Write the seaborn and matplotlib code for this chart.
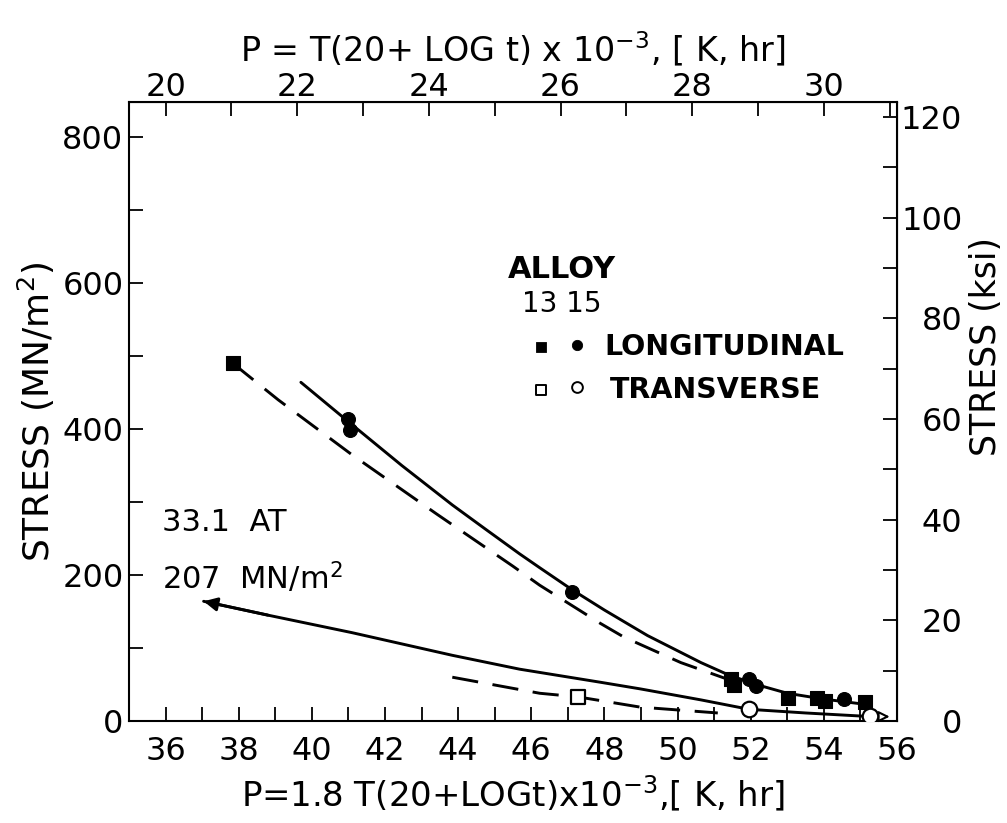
import numpy as np
import pandas as pd
import matplotlib
matplotlib.use("Agg")
import matplotlib.pyplot as plt
import seaborn as sns

# ---------------- data ----------------
# Longitudinal, filled squares
long_sq_P = [37.84, 51.46, 51.55, 53.03, 53.80, 54.02, 55.12]
long_sq_S = [490, 58, 50, 31, 31, 27, 26]
# Longitudinal, filled circles
long_ci_P = [41.00, 41.05, 47.11, 51.96, 52.15, 54.54]
long_ci_S = [414, 399, 177, 57, 48, 30]
# Transverse, open squares
tr_sq_P = [47.28]
tr_sq_S = [33]
# Transverse, open circles
tr_ci_P = [51.96, 55.25]
tr_ci_S = [16, 7]

# Fitted curves
solid_P = [39.70, 41.00, 42.46, 43.84, 44.77, 45.68, 46.23, 47.11, 48.00, 49.18, 50.64, 51.40, 52.15, 53.00, 54.00, 55.10]
solid_S = [464, 410, 350, 296, 262, 229, 210, 180, 152, 117, 80, 63, 50, 38, 30, 23]
dash_P = [37.84, 39.08, 41.09, 43.40, 45.50, 46.23, 47.88, 48.53, 50.09, 51.38]
dash_S = [490, 440, 365, 284, 212, 186, 134, 115, 80, 57]
low_solid_P = [37.04, 38.80, 41.10, 43.84, 45.68, 47.90, 48.98, 50.63, 51.96, 53.50, 55.30]
low_solid_S = [164, 145, 121, 90, 71, 53, 44, 29, 16, 11, 6]
low_dash_P = [43.84, 46.23, 47.28, 48.98, 51.10]
low_dash_S = [60, 38, 33, 19, 11]

x_ticks = [36, 38, 40, 42, 44, 46, 48, 50, 52, 54, 56]
top_ticks = [20, 22, 24, 26, 28, 30]
left_ticks = [0, 200, 400, 600, 800]
right_ticks = [0, 20, 40, 60, 80, 100, 120]

# ---------------- figure ----------------
sns.set_style("ticks")
plt.rcParams["font.family"] = ["DejaVu Sans"]
plt.rcParams["mathtext.default"] = "regular"
for k in ["text.color", "axes.labelcolor", "xtick.color", "ytick.color", "axes.edgecolor"]:
    plt.rcParams[k] = "black"

fig = plt.figure(figsize=(10.07, 8.23), dpi=100)
ax = fig.add_axes([129 / 1007, 1 - 721 / 823, (897 - 129) / 1007, (721 - 102) / 823])
ax.set_xlim(35, 56)
ax.set_ylim(0, 848)

LW = 2.1
dash = (0, (9, 5))

sns.lineplot(x=solid_P, y=solid_S, ax=ax, color="black", lw=LW, estimator=None, sort=False)
sns.lineplot(x=dash_P, y=dash_S, ax=ax, color="black", lw=LW, estimator=None, sort=False, linestyle=dash)
sns.lineplot(x=low_solid_P, y=low_solid_S, ax=ax, color="black", lw=LW, estimator=None, sort=False)
sns.lineplot(x=low_dash_P, y=low_dash_S, ax=ax, color="black", lw=LW, estimator=None, sort=False, linestyle=dash)

# arrowheads
ax.annotate("", xy=(low_solid_P[0], low_solid_S[0]), xytext=(low_solid_P[1], low_solid_S[1]),
            arrowprops=dict(arrowstyle="-|>", color="black", lw=LW, mutation_scale=20, shrinkA=0, shrinkB=0))
ax.annotate("", xy=(55.80, 6), xytext=(55.25, 6),
            arrowprops=dict(arrowstyle="-|>", fc="white", ec="black", lw=1.5, mutation_scale=16, shrinkA=0, shrinkB=0))

sns.scatterplot(x=long_sq_P, y=long_sq_S, ax=ax, marker="s", s=95, color="black", edgecolor="black", zorder=5)
sns.scatterplot(x=long_ci_P, y=long_ci_S, ax=ax, marker="o", s=100, color="black", edgecolor="black", zorder=5)
sns.scatterplot(x=tr_sq_P, y=tr_sq_S, ax=ax, marker="s", s=100, color="white", edgecolor="black", linewidth=1.6, zorder=5)
sns.scatterplot(x=tr_ci_P, y=tr_ci_S, ax=ax, marker="o", s=125, color="white", edgecolor="black", linewidth=1.6, zorder=5)

# legend drawn as in the reference (symbols + text)
sns.scatterplot(x=[46.26], y=[512], ax=ax, marker="s", s=55, color="black", edgecolor="black")
sns.scatterplot(x=[47.25], y=[515], ax=ax, marker="o", s=55, color="black", edgecolor="black")
sns.scatterplot(x=[46.26], y=[453], ax=ax, marker="s", s=60, color="white", edgecolor="black", linewidth=1.4)
sns.scatterplot(x=[47.25], y=[457], ax=ax, marker="o", s=60, color="white", edgecolor="black", linewidth=1.4)
ax.text(48.0, 513, "LONGITUDINAL", fontsize=20.5, fontweight="bold", va="center", ha="left")
ax.text(48.15, 453, "TRANSVERSE", fontsize=20.5, fontweight="bold", va="center", ha="left")
ax.text(45.35, 618, "ALLOY", fontsize=22, fontweight="bold", va="center", ha="left")
ax.text(45.75, 571, "13 15", fontsize=20, va="center", ha="left")
ax.text(35.9, 272, "33.1  AT", fontsize=22, va="center", ha="left")
ax.text(35.9, 196, "207  MN/m$^2$", fontsize=22, va="center", ha="left")

# ---------------- axes styling ----------------
tick_kw = dict(direction="in", length=10, width=1.3, colors="black")
ax.set_xticks(x_ticks)
ax.set_xticks(np.arange(35, 56.5, 1), minor=True)
ax.set_yticks(left_ticks)
ax.set_yticks(np.arange(0, 850, 100), minor=True)
ax.tick_params(axis="both", which="both", **tick_kw)
ax.tick_params(axis="x", which="major", labelsize=23, pad=11)
ax.tick_params(axis="y", which="major", labelsize=23, pad=4)
for s in ax.spines.values():
    s.set_linewidth(1.5)
    s.set_color("black")

ax.set_xlabel("P=1.8 T(20+LOGt)x10$^{-3}$,[ K, hr]", fontsize=24.5, labelpad=4)
ax.set_ylabel("STRESS (MN/m$^2$)", fontsize=26, labelpad=4)

top = ax.secondary_xaxis("top", functions=(lambda p: p / 1.8, lambda p: p * 1.8))
top.set_xticks(top_ticks)
top.set_xticks(np.arange(20, 31.5, 1), minor=True)
top.tick_params(axis="x", which="both", **tick_kw)
top.tick_params(axis="x", which="major", labelsize=23, pad=-1)
top.set_xlabel("P = T(20+ LOG t) x 10$^{-3}$, [ K, hr]", fontsize=24, labelpad=8)

right = ax.secondary_yaxis("right", functions=(lambda s: s / 6.895, lambda k: k * 6.895))
right.set_yticks(right_ticks)
right.set_yticks(np.arange(0, 125, 10), minor=True)
right.tick_params(axis="y", which="both", **tick_kw)
right.tick_params(axis="y", which="major", labelsize=23, pad=47)
for lab in right.get_yticklabels():
    lab.set_horizontalalignment("right")
fig.text(986 / 1007, 1 - 347 / 823, "STRESS (ksi)", rotation=90, fontsize=25, ha="center", va="center")

fig.savefig("out.png", dpi=100)
